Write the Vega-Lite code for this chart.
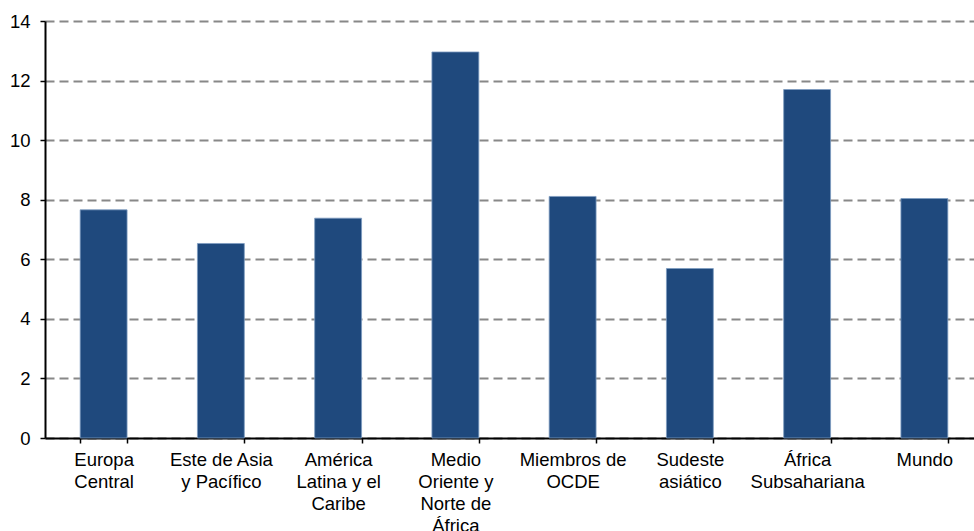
{
  "$schema": "https://vega.github.io/schema/vega-lite/v6.json",
  "width": 929,
  "height": 417,
  "autosize": "none",
  "padding": {"left": 45, "top": 21, "right": 0, "bottom": 93},
  "background": "white",
  "config": {
    "view": {"stroke": null},
    "font": "Liberation Sans"
  },
  "data": {
    "values": [
      {"region": "Europa Central", "value": 7.66},
      {"region": "Este de Asia y Pacífico", "value": 6.53},
      {"region": "América Latina y el Caribe", "value": 7.38},
      {"region": "Medio Oriente y Norte de África", "value": 12.96},
      {"region": "Miembros de OCDE", "value": 8.11},
      {"region": "Sudeste asiático", "value": 5.69},
      {"region": "África Subsahariana", "value": 11.7},
      {"region": "Mundo", "value": 8.04}
    ]
  },
  "mark": {"type": "bar", "color": "#1F497D", "stroke": "#7E9CC0", "strokeWidth": 0.8},
  "encoding": {
    "x": {
      "field": "region",
      "type": "nominal",
      "sort": null,
      "scale": {"paddingInner": 0.6, "paddingOuter": 0.3, "range": [0, 938]},
      "axis": {
        "title": null,
        "labelAngle": 0,
        "labelFontSize": 18.5,
        "labelColor": "#000",
        "labelLineHeight": 22,
        "labelPadding": 7,
        "labelBaseline": "top",
        "tickBand": "extent",
        "tickSize": 5,
        "tickColor": "#000",
        "tickWidth": 1.5,
        "domainColor": "#000",
        "domainWidth": 2,
        "labelExpr": "{'Europa Central': ['Europa', 'Central'], 'Este de Asia y Pacífico': ['Este de Asia', 'y Pacífico'], 'América Latina y el Caribe': ['América', 'Latina y el', 'Caribe'], 'Medio Oriente y Norte de África': ['Medio', 'Oriente y', 'Norte de', 'África'], 'Miembros de OCDE': ['Miembros de', 'OCDE'], 'Sudeste asiático': ['Sudeste', 'asiático'], 'África Subsahariana': ['África', 'Subsahariana'], 'Mundo': ['Mundo']}[datum.value]"
      }
    },
    "y": {
      "field": "value",
      "type": "quantitative",
      "scale": {"domain": [0, 14], "nice": false},
      "axis": {
        "title": null,
        "values": [0, 2, 4, 6, 8, 10, 12, 14],
        "labelFontSize": 18.5,
        "labelColor": "#000",
        "labelPadding": 10,
        "tickSize": 5,
        "tickColor": "#000",
        "tickWidth": 1.5,
        "domainColor": "#000",
        "domainWidth": 2,
        "grid": true,
        "gridColor": "#888888",
        "gridWidth": 2,
        "gridDash": [9, 5]
      }
    }
  }
}
